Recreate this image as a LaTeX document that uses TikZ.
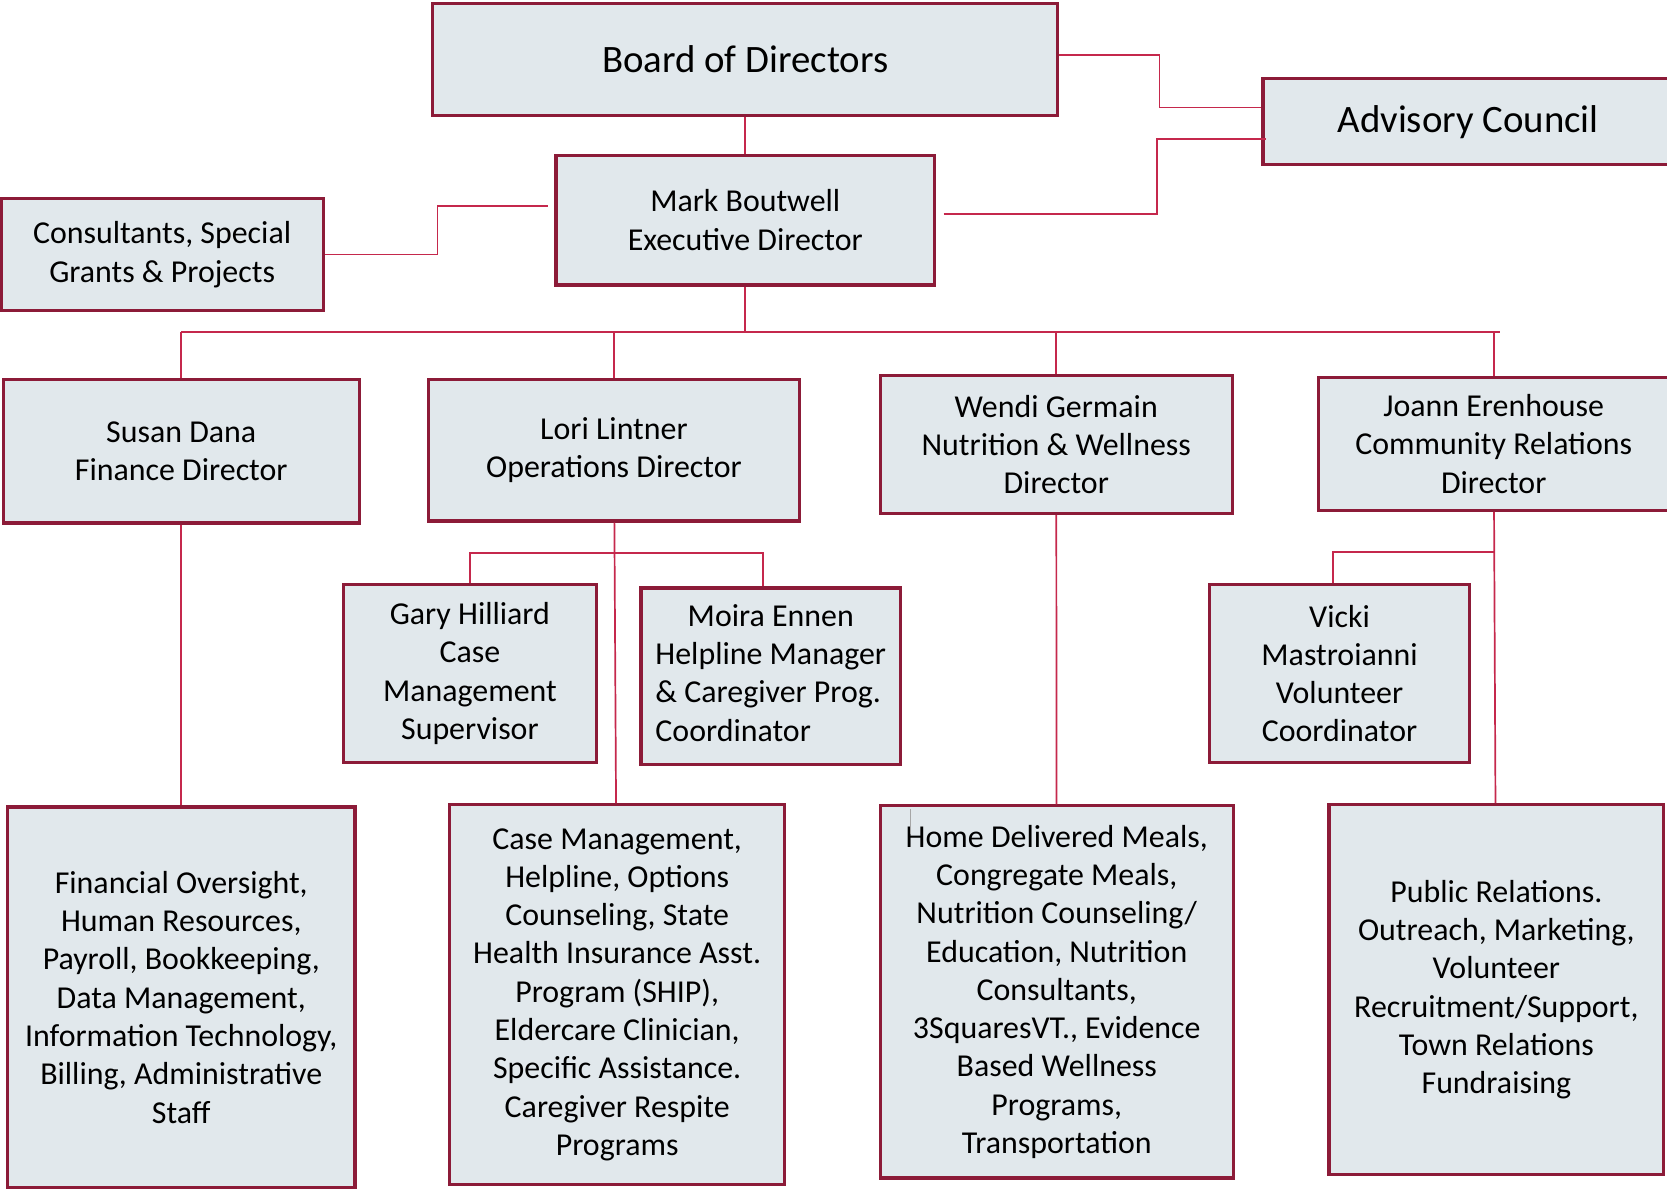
\documentclass[tikz,border=0pt]{standalone}
\usepackage{fontspec}
\setmainfont{Carlito}

\definecolor{boxline}{RGB}{140,27,56}
\definecolor{boxfill}{RGB}{225,232,236}
\definecolor{linkred}{RGB}{197,40,76}

\tikzset{
  box/.style={draw=boxline, line width=3pt, fill=boxfill, align=center,
    inner sep=0pt, font=\fontsize{30}{36}\selectfont},
  bigbox/.style={box, font=\fontsize{36.5}{42}\selectfont},
  link/.style={draw=linkred, line width=1.6pt},
}

\begin{document}
\begin{tikzpicture}[x=1pt, y=-1pt]
\useasboundingbox (0,0) rectangle (1568,1119);
% top level
\node[bigbox, minimum width=588, minimum height=106] (board) at (701,56)
  {Board of Directors};
\node[bigbox, minimum width=386, minimum height=81] (advisory) at (1381,114.5)
  {Advisory Council};
\node[box, minimum width=356, minimum height=122] (mark) at (701,207)
  {Mark Boutwell\\Executive Director};
\node[box, minimum width=303, minimum height=105] (consult) at (152.5,239.5)
  {Consultants, Special\\Grants \& Projects};
% directors
\node[box, minimum width=335, minimum height=135] (susan) at (170.5,424.5)
  {Susan Dana\\Finance Director};
\node[box, minimum width=349, minimum height=133] (lori) at (577.5,423.5)
  {Lori Lintner\\Operations Director};
\node[box, minimum width=331, minimum height=130] (wendi) at (993.5,418)
  {Wendi Germain\\Nutrition \& Wellness\\Director};
\node[box, minimum width=330, minimum height=125] (joann) at (1405,417.5)
  {Joann Erenhouse\\Community Relations\\Director};
% staff
\node[box, minimum width=238, minimum height=167] (gary) at (442,633.5)
  {Gary Hilliard\\Case\\Management\\Supervisor};
\node[box, minimum width=244, minimum height=166] (moira) at (725,636)
  {\begin{tabular}{@{}l@{}}\multicolumn{1}{@{}c@{}}{Moira Ennen}\\
   Helpline Manager\\\& Caregiver Prog.\\Coordinator\end{tabular}};
\node[box, minimum width=244, minimum height=167] (vicki) at (1260,633.5)
  {Vicki\\Mastroianni\\Volunteer\\Coordinator};
% programs
\node[box, minimum width=327, minimum height=358] (finance) at (170.5,938)
  {Financial Oversight,\\Human Resources,\\Payroll, Bookkeeping,\\Data Management,\\
   Information Technology,\\Billing, Administrative\\Staff};
\node[box, minimum width=315, minimum height=357] (ops) at (580.5,935.5)
  {Case Management,\\Helpline, Options\\Counseling, State\\Health Insurance Asst.\\
   Program (SHIP),\\Eldercare Clinician,\\Specific Assistance.\\Caregiver Respite\\Programs};
\node[box, minimum width=332, minimum height=350] (nutri) at (994,933)
  {Home Delivered Meals,\\Congregate Meals,\\Nutrition Counseling/\\Education, Nutrition\\
   Consultants,\\3SquaresVT., Evidence\\Based Wellness\\Programs,\\Transportation};
\node[box, minimum width=315, minimum height=348] (pr) at (1407.5,931)
  {Public Relations.\\Outreach, Marketing,\\Volunteer\\Recruitment/Support,\\
   Town Relations\\Fundraising};
\draw[gray!70, line width=1pt] (856,761) -- (856,784);

% board, council, consultants
\draw[link] (board) -- (mark);
\draw[link] ([yshift=4pt]board.east) -- ++(94,0) |- ([yshift=13.5pt]advisory.west);
\draw[link] ([xshift=7pt,yshift=6pt]mark.east) -- ++(201,0)
  |- ([xshift=4pt,yshift=-16.5pt]advisory.west);
\draw[link] (consult.east) -- ++(106,0) |- ([xshift=-6pt,yshift=13pt]mark.west);

% director bus
\coordinate (bus) at (0,312);
\coordinate (busend) at (1411,312);
\draw[link] (mark) -- (mark |- bus);
\draw[link] (susan |- bus) -- (busend);
\foreach \n in {susan,lori,wendi,joann}
  \draw[link] (\n) -- (\n |- bus);

% down to programs
\draw[link] (susan) -- (finance);
\draw[link] (lori) -- (ops);
\draw[link] (wendi) -- (nutri);
\draw[link] (joann) -- (pr);

% staff branches
\coordinate (opsbus) at (0,520);
\coordinate (relbus) at (0,519);
\draw[link] (gary) -- (gary |- opsbus) -| ([xshift=-7pt]moira.north);
\draw[link] (joann |- relbus) -| ([xshift=-6pt]vicki.north);
\end{tikzpicture}
\end{document}
